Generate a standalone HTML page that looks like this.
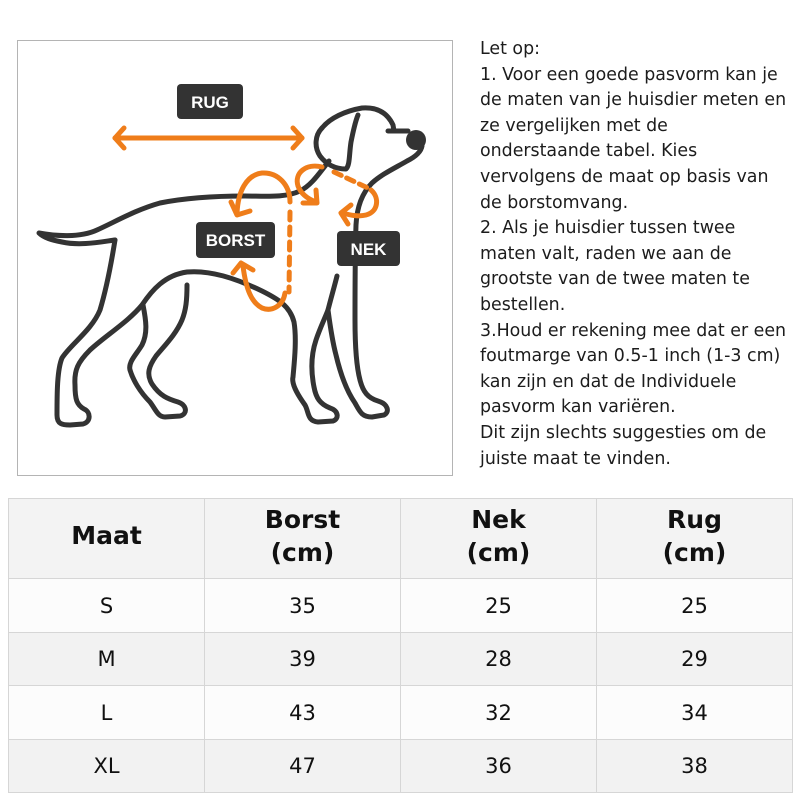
<!DOCTYPE html>
<html>
<head>
<meta charset="utf-8">
<style>
html,body{margin:0;padding:0;background:#fff;}
body{width:800px;height:800px;position:relative;overflow:hidden;font-family:"DejaVu Sans","Liberation Sans",sans-serif;}
#box{position:absolute;left:17px;top:40px;width:434px;height:434px;border:1px solid #b4b4b4;}
#txt{position:absolute;left:480px;top:37px;font-family:"DejaVu Sans","Liberation Sans",sans-serif;font-size:17.4px;line-height:25.6px;color:#1c1c1c;white-space:nowrap;}
table{position:absolute;left:8px;top:498px;width:785px;border-collapse:collapse;table-layout:fixed;font-family:"DejaVu Sans","Liberation Sans",sans-serif;color:#111;}
td{border:1px solid #d6d6d6;text-align:center;padding:0;font-size:21px;}
tr.h td{height:79px;font-weight:bold;font-size:25px;line-height:33px;background:#f3f3f3;}
tr.h td div{position:relative;top:-3px;}
tr.w td{background:#fcfcfc;}
tr.g td{background:#f2f2f2;}
.lbl{font-family:"Liberation Sans",sans-serif;font-weight:bold;font-size:17px;fill:#fff;}
</style>
</head>
<body>
<div id="box"></div>
<svg style="position:absolute;left:0;top:0" width="470" height="480" viewBox="0 0 470 480">
  <g fill="none" stroke="#333" stroke-width="5" stroke-linecap="round" stroke-linejoin="round">
    <path d="M115,240 C100,242 80,246 62,242 C52,240 44,238 39,233 C55,236 80,238 97,230 C115,222 135,210 160,203 C185,198 215,196 245,196 C265,196 285,198 300,191 C312,185 320,172 329,161"/>
    <path d="M115,240 C111,265 106,290 100,310 C92,330 70,345 62,358 C57,370 57,395 57,415 C57,424 62,425 70,425 L83,424 C91,422 91,412 84,409 C77,405 75,400 75,385 C74,370 78,362 90,350 C105,336 128,322 142,305 C152,290 165,275 187,272 C210,270 235,278 262,291 C278,299 290,306 294,322 C297,340 294,365 293,377 C291,385 300,398 305,405 C309,412 307,421 318,422 L333,421 C339,419 339,411 330,408 C320,404 316,398 314,387 C311,372 311,355 316,340 C320,328 325,318 328,310 C331,298 334,288 337,276"/>
    <path d="M143,305 C146,320 148,333 142,345 C136,355 128,362 130,370 C133,380 140,392 150,402 C156,410 158,417 165,417 L180,416 C188,414 187,405 178,402 C168,399 160,396 152,384 C146,374 149,366 156,356 C166,344 176,334 182,320 C186,310 187,300 187,285"/>
    <path d="M328,310 C330,325 332,340 336,355 C340,372 346,390 355,403 C360,412 362,417 372,417 L384,415 C390,412 388,404 378,401 C368,398 363,392 360,380 C356,365 355,345 355,320 C355,290 355,255 356,225 C357,205 363,192 372,183 C382,174 395,168 407,161 C415,157 421,152 422,146"/>
    <path d="M322,128 C330,118 345,111 362,108 C376,107 387,112 393,125 L394,131"/>
    <path d="M388,131 L408,131"/>
    <path d="M322,128 C315,135 314,147 320,156 C326,164 335,169 346,169 C350,165 349,155 351,142 C353,132 355,122 358,115"/>
  </g>
  <circle cx="416" cy="140" r="10" fill="#333"/>
  <g fill="none" stroke="#ef7d1a" stroke-width="5" stroke-linecap="round" stroke-linejoin="round">
    <path d="M115,138 H302"/>
    <path d="M124,128 L115,138 L124,148"/>
    <path d="M293,128 L302,138 L293,148"/>
    <path d="M290,202 C290,185 278,172 262,173 C246,175 238,192 237,213"/>
    <path d="M231,202 L237,215 L250,211"/>
    <path d="M290,212 L289,292" stroke-dasharray="8 7"/>
    <path d="M285,293 C283,306 272,312 262,308 C252,303 246,290 243,266"/>
    <path d="M233,273 L241,263 L253,270"/>
    <path d="M322,167 C306,163 294,173 298,186 C301,194 308,199 316,202"/>
    <path d="M303,203 L317,203 L316,190"/>
    <path d="M334,172 L370,189" stroke-dasharray="8 6"/>
    <path d="M371,190 C380,198 378,212 366,215 C358,217 350,215 342,213"/>
    <path d="M351,205 L341,213 L348,224"/>
  </g>
  <rect x="177" y="84" width="66" height="35" rx="4" fill="#333"/>
  <text class="lbl" x="210" y="108" text-anchor="middle">RUG</text>
  <rect x="196" y="222" width="79" height="36" rx="4" fill="#333"/>
  <text class="lbl" x="235.5" y="246" text-anchor="middle">BORST</text>
  <rect x="337" y="231" width="63" height="35" rx="4" fill="#333"/>
  <text class="lbl" x="368.5" y="255" text-anchor="middle">NEK</text>
</svg>

<div id="txt">Let op:<br>1. Voor een goede pasvorm kan je<br>de maten van je huisdier meten en<br>ze vergelijken met de<br>onderstaande tabel. Kies<br>vervolgens de maat op basis van<br>de borstomvang.<br>2. Als je huisdier tussen twee<br>maten valt, raden we aan de<br>grootste van de twee maten te<br>bestellen.<br>3.Houd er rekening mee dat er een<br>foutmarge van 0.5-1 inch (1-3 cm)<br>kan zijn en dat de Individuele<br>pasvorm kan variëren.<br>Dit zijn slechts suggesties om de<br>juiste maat te vinden.</div>

<table>
  <tr class="h"><td><div>Maat</div></td><td><div>Borst<br>(cm)</div></td><td><div>Nek<br>(cm)</div></td><td><div>Rug<br>(cm)</div></td></tr>
  <tr class="w"><td style="height:53px">S</td><td>35</td><td>25</td><td>25</td></tr>
  <tr class="g"><td style="height:52px">M</td><td>39</td><td>28</td><td>29</td></tr>
  <tr class="w"><td style="height:53px">L</td><td>43</td><td>32</td><td>34</td></tr>
  <tr class="g"><td style="height:52px">XL</td><td>47</td><td>36</td><td>38</td></tr>
</table>
</body>
</html>
